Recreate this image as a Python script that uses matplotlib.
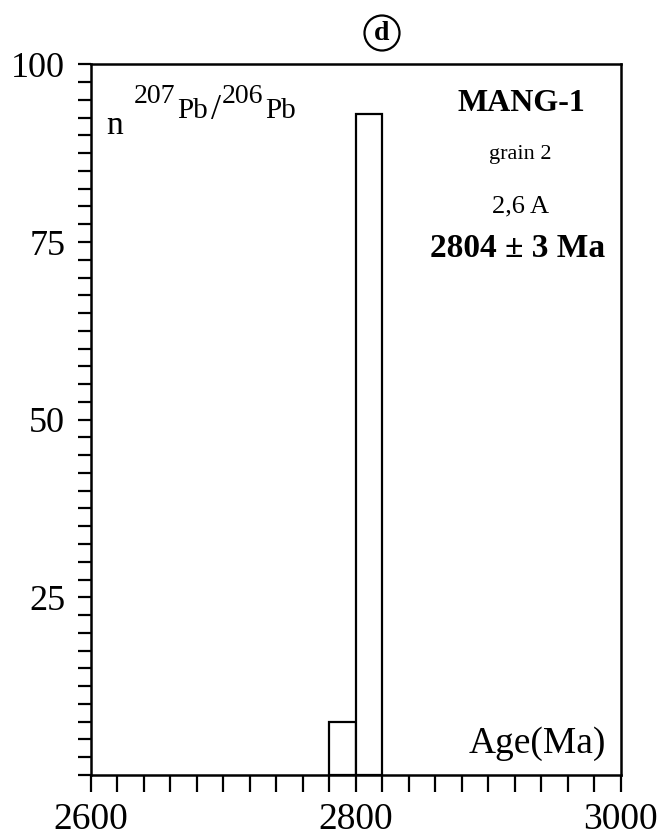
import matplotlib
matplotlib.use("Agg")
import matplotlib.pyplot as plt
from matplotlib.ticker import MultipleLocator, FuncFormatter

plt.rcParams['font.family'] = ['Liberation Serif', 'DejaVu Serif']

# histogram of 207Pb/206Pb ages
bin_left = [2780, 2800]
bin_width = 20
counts = [7.5, 93]

x_labels = [2600, 2800, 3000]
y_labels = [25, 50, 75, 100]

W, H = 669, 836
fig = plt.figure(figsize=(W / 100, H / 100), dpi=100)
ax = fig.add_axes([0.136, 0.073, 0.792, 0.850])

ax.bar(bin_left, counts, width=bin_width, align="edge",
       facecolor="white", edgecolor="black", linewidth=1.6)

ax.set_xlim(2600, 3000)
ax.set_ylim(0, 100)

for s in ax.spines.values():
    s.set_linewidth(1.8)

# ticks every 20 Ma / 2.5 counts, labels only at a few
ax.xaxis.set_major_locator(MultipleLocator(20))
ax.yaxis.set_major_locator(MultipleLocator(2.5))
ax.xaxis.set_major_formatter(FuncFormatter(
    lambda v, p: str(int(round(v))) if int(round(v)) in x_labels else ""))
ax.yaxis.set_major_formatter(FuncFormatter(
    lambda v, p: str(int(round(v))) if abs(v - round(v)) < 1e-6 and int(round(v)) in y_labels else ""))
ax.tick_params(axis="x", direction="out", length=12, width=1.6, labelsize=27, pad=8,
               top=False)
ax.tick_params(axis="y", direction="out", length=9.5, width=1.6, labelsize=26, pad=9,
               right=False)


def ptext(x, y, s, **kw):
    # place text by pixel position (y from top)
    fig.text(x / W, 1 - y / H, s, va="baseline", **kw)


# n 207Pb/206Pb label, pieces at their own heights
ptext(106, 134, "n", fontsize=24)
ptext(134, 103, "207", fontsize=20)
ptext(177, 118, "Pb", fontsize=21)
ptext(211, 119, "/", fontsize=26)
ptext(222, 103, "206", fontsize=20)
ptext(265, 118, "Pb", fontsize=21)

ax.text(0.813, 0.935, "MANG-1", transform=ax.transAxes, fontsize=23,
        fontweight="bold", ha="center", va="baseline")
ax.text(0.81, 0.867, "grain 2", transform=ax.transAxes, fontsize=16,
        ha="center", va="baseline")
ax.text(0.81, 0.792, "2,6 A", transform=ax.transAxes, fontsize=19,
        ha="center", va="baseline")
ax.text(0.806, 0.7285, "2804 \u00b1 3 Ma", transform=ax.transAxes, fontsize=24,
        fontweight="bold", ha="center", va="baseline")

ax.text(0.972, 0.031, "Age(Ma)", transform=ax.transAxes, fontsize=27,
        ha="right", va="baseline")

# panel letter in a circle
fig.text(382 / W, 1 - 33 / H, "d", fontsize=20, fontweight="bold", ha="center", va="center",
         bbox=dict(boxstyle="circle,pad=0.18", facecolor="white",
                   edgecolor="black", linewidth=1.6))

fig.savefig("out.png", dpi=100)
